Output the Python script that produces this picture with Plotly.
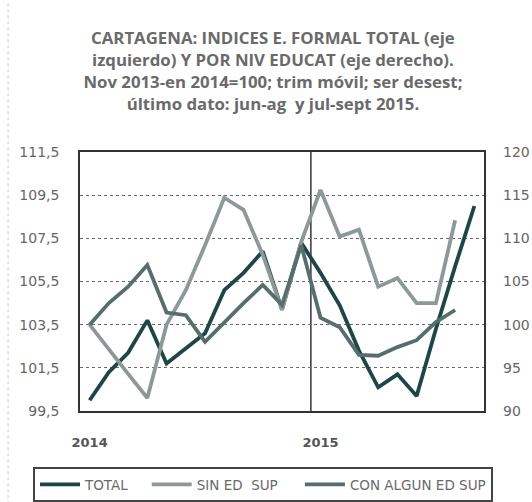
import plotly.graph_objects as go

# ---- data ----
months = ["ene-14", "feb-14", "mar-14", "abr-14", "may-14", "jun-14", "jul-14",
          "ago-14", "sep-14", "oct-14", "nov-14", "dic-14",
          "ene-15", "feb-15", "mar-15", "abr-15", "may-15", "jun-15", "jul-15",
          "ago-15", "sep-15"]
tick_vals = ["ene-14", "ene-15"]
tick_text = ["2014", "2015"]

total = [100.0, 101.3, 102.2, 103.7, 101.7, 102.4, 103.1, 105.1, 105.9, 106.9,
         104.2, 107.3, 105.9, 104.4, 102.3, 100.6, 101.2, 100.2, 103.3, 106.2, 109.0]
sin_ed_sup = [100.0, 97.1, 94.3, 91.5, 100.0, 104.0, 109.2, 114.7, 113.3, 108.1,
              101.7, 109.6, 115.6, 110.2, 111.0, 104.4, 105.4, 102.5, 102.5, 112.1]
con_algun = [100.0, 102.5, 104.4, 106.9, 101.4, 101.1, 98.0, 100.3, 102.5, 104.6,
             102.3, 109.2, 100.8, 99.7, 96.5, 96.4, 97.4, 98.2, 100.3, 101.7]

names = ["TOTAL", "SIN ED  SUP", "CON ALGUN ED SUP"]

title_text = ("CARTAGENA: INDICES E. FORMAL TOTAL (eje<br>"
              "izquierdo) Y POR NIV EDUCAT (eje derecho).<br>"
              "Nov 2013-en 2014=100; trim móvil; ser desest;<br>"
              "último dato: jun-ag  y jul-sept 2015.")

C_TOTAL = "#1f4646"
C_SIN = "#8d9999"
C_CON = "#566e6e"

NB = "\u00a0"
fig = go.Figure()
fig.add_trace(go.Scatter(x=months, y=total, name=names[0] + NB * 3, mode="lines",
                         line=dict(color=C_TOTAL, width=3.8), yaxis="y"))
fig.add_trace(go.Scatter(x=months[:len(sin_ed_sup)], y=sin_ed_sup, name=names[1] + NB * 4,
                         mode="lines", line=dict(color=C_SIN, width=3.8), yaxis="y2"))
fig.add_trace(go.Scatter(x=months[:len(con_algun)], y=con_algun, name=names[2],
                         mode="lines", line=dict(color=C_CON, width=3.8), yaxis="y2"))

tick_font = dict(family="DejaVu Sans", size=14, color="#666666")

PLOT_L, PLOT_R, PLOT_T, PLOT_B = 80, 484, 152, 411
PW, PH = PLOT_R - PLOT_L, PLOT_B - PLOT_T

fig.update_layout(
    width=532, height=502,
    margin=dict(l=PLOT_L, r=532 - PLOT_R, t=PLOT_T, b=502 - PLOT_B, autoexpand=False),
    paper_bgcolor="white", plot_bgcolor="white",
    separators=", ",
    title=dict(text=title_text, x=0.513, xanchor="center", y=0.912, yanchor="top",
               font=dict(family="Open Sans", size=16.8, color="#6a6a6a", weight="bold")),
    xaxis=dict(type="category", categoryorder="array", categoryarray=months,
               range=[-0.5, len(months) - 0.5],
               tickmode="array", tickvals=tick_vals, ticktext=tick_text,
               showgrid=False, zeroline=False,
               showline=True, mirror=True, linecolor="#333333", linewidth=1.5,
               ticks="outside", ticklen=19, tickcolor="rgba(0,0,0,0)",
               tickfont=dict(family="DejaVu Sans", size=13, color="#555555", weight="bold")),
    yaxis=dict(range=[99.5, 111.5], tickmode="linear", tick0=99.5, dtick=2,
               tickformat=".1f", showgrid=True, gridcolor="#6a6a6a", gridwidth=1,
               griddash="dot", zeroline=False,
               showline=True, mirror=True, linecolor="#333333", linewidth=1.5,
               ticks="", ticklabelstandoff=16, tickfont=tick_font),
    yaxis2=dict(range=[90, 120], tickmode="linear", tick0=90, dtick=5,
                tickformat="d", overlaying="y", side="right", showgrid=False,
                zeroline=False, showline=False, ticks="", ticklabelstandoff=18,
                tickfont=tick_font, automargin=False),
    legend=dict(orientation="h", xref="paper", yref="paper",
                x=(33 - PLOT_L) / PW, xanchor="left",
                y=(PLOT_B - 467) / PH, yanchor="top",
                bordercolor="#444444", borderwidth=2, bgcolor="white",
                font=dict(family="DejaVu Sans", size=13.5, color="#6a6a6a"),
                itemwidth=40, tracegroupgap=0),
    showlegend=True,
)

# vertical separator between 2014 and 2015 (category boundary)
fig.add_shape(type="line", xref="x", yref="paper", x0=11.5, x1=11.5, y0=0, y1=1,
              line=dict(color="#333333", width=1.5), layer="below")
# faint scan border at the left
fig.add_shape(type="line", xref="paper", yref="paper", x0=-0.178, x1=-0.178,
              y0=-0.36, y1=1.6, line=dict(color="#c8c8c8", width=1, dash="dot"))

fig.write_html("out.html", config={"displayModeBar": False},
               post_script="document.body.style.margin='0px';")
